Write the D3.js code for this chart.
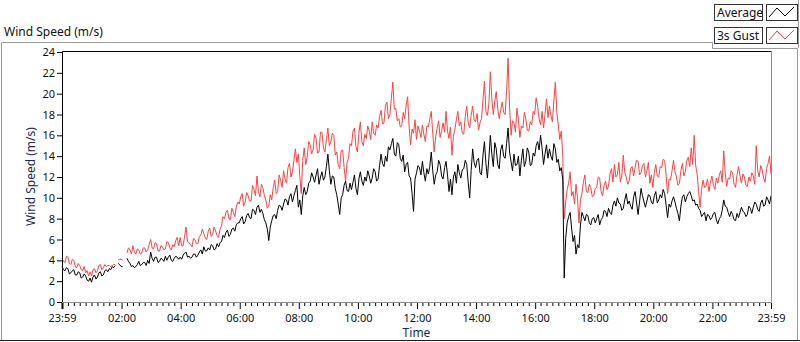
<!DOCTYPE html>
<html>
<head>
<meta charset="utf-8">
<script src="https://cdnjs.cloudflare.com/ajax/libs/d3/7.8.5/d3.min.js"></script>
<style>
  body { margin: 0; background: #fff; }
  svg { display: block; font-family: "Noto Sans", sans-serif; }
</style>
</head>
<body>
<div id="chart"></div>
<script>
// --- DATOS ---
// una muestra cada 3 minutos desde las 23:59 (null = hueco), 2 filas por hora
const STEP_MIN = 3;

const avgSpeed = [
  3.4, 3.1, 3.0, 3.3, 3.2, 2.7, 2.8, 3.0, 3.1, 2.6,
  2.6, 2.9, 2.8, 2.3, 2.4, 2.7, 2.5, 2.1, 2.0, 2.3,
  1.9, 2.4, 2.6, 2.2, 2.4, 2.8, 2.9, 2.5, 2.6, 3.0,
  3.1, 2.9, 3.2, 3.1, 3.4, 3.3, 3.5, null, 3.7, 3.6,
  3.4, 3.4, null, null, 4.2, 3.9, 3.7, 3.4, 3.5, 3.3,
  3.4, 3.6, 3.9, 3.5, 3.6, 3.8, 3.8, 3.5, 4.0, 3.7,
  4.8, 4.2, 3.9, 4.3, 4.3, 3.8, 3.9, 4.2, 4.1, 3.9,
  4.4, 4.0, 4.3, 4.5, 4.0, 3.9, 4.2, 4.4, 4.3, 4.1,
  4.3, 4.1, 4.5, 4.7, 4.8, 4.3, 4.4, 4.2, 4.3, 4.6,
  4.6, 4.3, 4.5, 4.8, 5.0, 4.6, 5.3, 4.9, 4.9, 5.2,
  5.0, 5.5, 5.4, 5.0, 5.1, 5.6, 5.3, 5.7, 5.8, 6.4,
  6.2, 6.7, 6.9, 6.3, 6.5, 7.0, 7.1, 6.8, 7.4, 7.6,
  7.6, 8.0, 8.2, 7.5, 7.7, 8.3, 8.5, 8.1, 8.0, 8.9,
  8.8, 8.4, 9.1, 9.3, 8.6, 8.9, 8.5, 7.9, 7.6, 7.0,
  5.9, 7.2, 7.8, 8.3, 8.4, 8.0, 8.8, 9.3, 9.2, 8.8,
  9.4, 9.9, 9.8, 9.3, 10.1, 10.4, 9.6, 10.2, 10.7, 11.2,
  9.1, 9.8, 8.4, 10.2, 11.0, 10.3, 10.6, 11.4, 11.6, 12.4,
  12.0, 11.5, 12.2, 12.8, 11.3, 12.0, 12.5, 11.7, 12.0, 13.0,
  14.2, 12.6, 11.3, 12.1, 12.0, 10.9, 10.3, 9.4, 8.4, 10.0,
  10.3, 11.2, 11.6, 10.7, 10.6, 11.4, 10.8, 11.5, 12.2, 10.9,
  10.3, 11.8, 12.5, 11.6, 11.2, 12.0, 11.6, 12.6, 12.1, 11.4,
  11.9, 12.8, 12.5, 11.6, 11.8, 13.1, 14.2, 13.3, 13.0, 14.0,
  13.5, 14.9, 14.6, 15.2, 15.7, 14.2, 14.0, 15.3, 15.1, 13.8,
  13.5, 14.1, 12.5, 13.2, 13.4, 12.1, 11.9, 10.4, 8.7, 11.8,
  12.4, 13.1, 12.9, 12.2, 13.5, 12.4, 11.6, 12.8, 12.3, 13.0,
  14.4, 12.6, 11.3, 12.2, 12.5, 13.6, 13.2, 12.1, 11.8, 12.9,
  13.5, 12.2, 10.6, 11.8, 10.3, 12.0, 12.5, 11.4, 13.2, 12.4,
  11.9, 12.7, 12.8, 13.6, 13.2, 11.5, 10.0, 12.6, 14.7, 13.4,
  12.9, 13.6, 13.8, 12.4, 12.2, 14.1, 15.4, 13.3, 11.9, 13.8,
  16.0, 14.2, 13.0, 15.3, 14.7, 13.2, 12.8, 14.6, 15.1, 14.0,
  13.8, 15.2, 16.7, 14.4, 13.5, 12.6, 14.2, 13.1, 13.2, 14.0,
  12.1, 13.6, 14.7, 13.0, 13.5, 14.8, 14.4, 13.1, 13.2, 14.3,
  14.0, 15.0, 15.4, 14.6, 16.0, 14.8, 13.2, 14.2, 15.1, 13.8,
  14.7, 14.0, 13.6, 15.2, 14.7, 13.4, 13.7, 12.6, 12.9, 11.8,
  2.3, 6.1, 7.6, 8.2, 8.6, 7.1, 5.8, 6.4, 4.6, 5.5,
  5.2, 7.4, 8.6, 8.2, 7.8, 8.4, 8.3, 7.6, 7.4, 8.0,
  8.1, 7.6, 8.0, 8.4, 7.4, 7.9, 8.1, 8.8, 8.7, 8.2,
  9.0, 8.6, 8.4, 9.3, 9.7, 9.2, 10.0, 9.5, 9.4, 8.8,
  9.0, 9.8, 10.4, 9.4, 9.7, 9.2, 8.9, 10.1, 10.6, 9.5,
  8.4, 9.6, 10.9, 10.2, 9.6, 9.1, 9.7, 10.3, 10.2, 9.6,
  9.4, 10.2, 10.6, 9.5, 9.8, 10.3, 10.0, 10.8, 10.4, 9.3,
  8.1, 9.4, 9.1, 9.7, 10.1, 9.6, 9.0, 8.5, 7.8, 9.2,
  10.1, 10.3, 9.6, 10.1, 10.4, 10.6, 10.2, 9.7, 9.8, 9.3,
  9.4, 9.0, 8.8, 8.2, 8.4, 8.6, 7.8, 8.4, 8.3, 7.9,
  8.1, 8.5, 8.6, 7.9, 7.5, 8.0, 8.2, 8.8, 9.8, 9.2,
  9.1, 8.6, 8.2, 8.7, 8.4, 7.9, 7.8, 8.5, 8.1, 8.6,
  9.1, 8.7, 8.6, 8.2, 8.4, 9.2, 9.0, 8.5, 9.1, 9.6,
  9.4, 8.9, 8.7, 9.5, 9.8, 9.2, 9.3, 10.1, 9.8, 9.4,
  10.2
];

const gustSpeed = [
  4.2, 3.9, 3.8, 4.4, 4.3, 3.7, 3.6, 4.1, 4.0, 3.4,
  3.3, 3.7, 3.5, 3.1, 3.0, 3.4, 2.8, 3.0, 2.5, 2.9,
  2.5, 3.1, 3.2, 2.8, 3.0, 3.5, 3.6, 3.1, 3.3, 3.6,
  3.4, 3.5, 3.5, 3.4, 3.5, 3.6, 3.6, null, 4.1, 4.1,
  4.1, 4.0, null, null, 4.7, 5.2, 5.0, 4.6, 5.4, 4.8,
  4.6, 5.1, 5.0, 4.6, 4.7, 5.2, 5.2, 4.8, 5.0, 5.5,
  6.0, 5.2, 5.1, 5.7, 5.6, 4.9, 4.9, 5.4, 5.3, 5.0,
  5.1, 5.8, 5.7, 5.2, 5.0, 5.5, 5.3, 5.9, 6.2, 5.4,
  6.2, 5.4, 5.4, 6.3, 7.2, 5.8, 5.7, 5.5, 5.3, 6.1,
  6.0, 5.6, 5.6, 6.3, 6.4, 7.0, 6.6, 6.1, 6.0, 6.8,
  7.1, 6.3, 6.5, 7.2, 6.8, 6.4, 6.2, 7.0, 7.3, 8.2,
  8.0, 8.6, 8.8, 8.0, 7.9, 9.0, 8.6, 8.2, 9.1, 9.6,
  9.4, 10.1, 10.4, 9.2, 9.6, 10.5, 10.2, 9.7, 9.7, 11.2,
  10.8, 10.2, 12.1, 10.6, 10.1, 11.3, 11.0, 10.2, 9.8, 9.0,
  9.2, 10.3, 9.8, 11.0, 11.7, 10.4, 10.6, 12.2, 11.7, 11.0,
  12.6, 11.8, 11.4, 12.9, 13.3, 12.0, 12.5, 13.6, 14.7, 13.4,
  14.2, 12.1, 10.4, 13.6, 14.8, 13.2, 13.9, 15.4, 15.1, 14.2,
  14.6, 16.1, 15.7, 14.3, 14.4, 16.3, 16.3, 14.8, 14.4, 15.6,
  16.7, 15.0, 15.4, 16.2, 16.0, 14.1, 14.4, 13.2, 12.8, 14.5,
  14.6, 12.9, 11.6, 13.4, 13.8, 15.2, 15.0, 16.4, 16.7, 14.9,
  14.4, 16.2, 17.3, 15.4, 15.0, 16.1, 15.7, 16.9, 16.4, 15.6,
  17.3, 16.2, 16.0, 17.0, 16.7, 17.8, 18.4, 17.1, 17.2, 18.9,
  19.2, 17.6, 18.0, 19.6, 21.1, 18.5, 18.6, 17.4, 17.6, 16.8,
  16.9, 18.2, 17.6, 18.9, 19.7, 16.8, 15.1, 16.6, 16.2, 17.5,
  15.6, 16.9, 16.4, 15.8, 17.0, 16.1, 15.4, 16.9, 16.8, 17.6,
  18.3, 16.2, 14.4, 15.9, 16.7, 17.4, 15.8, 16.4, 17.2, 16.3,
  18.3, 16.4, 15.7, 16.8, 14.1, 15.9, 16.6, 17.5, 18.3, 16.9,
  17.3, 16.2, 16.1, 17.8, 18.8, 17.2, 16.7, 17.9, 18.8, 17.5,
  17.3, 18.1, 16.5, 17.2, 17.6, 19.4, 21.2, 18.3, 17.9, 19.0,
  22.1, 19.5, 18.0, 19.3, 20.2, 18.6, 17.6, 18.4, 19.2, 18.2,
  18.0, 20.3, 23.4, 18.8, 16.0, 17.4, 17.2, 16.3, 18.6, 17.5,
  15.8, 16.9, 16.7, 18.2, 17.6, 16.5, 16.4, 17.3, 17.0, 18.3,
  18.0, 19.6, 18.8, 17.6, 17.0, 18.3, 16.7, 18.0, 19.5, 17.7,
  18.8, 17.9, 17.3, 19.3, 21.1, 18.2, 17.0, 15.6, 16.4, 14.2,
  8.0, 9.6, 10.8, 11.4, 12.5, 10.2, 10.6, 9.4, 11.3, 10.0,
  7.6, 9.8, 10.4, 11.5, 12.2, 10.6, 10.5, 11.3, 11.0, 10.1,
  10.2, 10.9, 11.0, 12.0, 11.9, 10.6, 10.2, 11.2, 11.6, 10.8,
  11.1, 12.3, 12.8, 11.5, 13.2, 12.0, 12.2, 13.4, 11.5, 12.1,
  14.1, 12.4, 12.0, 11.3, 11.6, 12.8, 13.0, 12.1, 12.9, 13.6,
  13.5, 12.2, 12.4, 13.1, 13.3, 12.0, 12.6, 13.4, 11.4, 12.2,
  11.0, 12.4, 13.2, 12.1, 12.0, 13.0, 12.9, 13.7, 13.6, 12.2,
  10.4, 11.8, 11.7, 12.6, 13.6, 12.5, 12.0, 11.2, 11.4, 12.6,
  13.3, 12.1, 12.5, 13.6, 13.9, 13.0, 14.8, 13.2, 16.0, 13.1,
  12.3, 10.6, 9.1, 10.8, 11.7, 11.0, 11.1, 11.8, 10.6, 11.5,
  12.1, 11.2, 10.8, 11.9, 11.4, 12.2, 12.6, 11.5, 14.5, 12.4,
  11.1, 11.9, 11.8, 12.6, 12.4, 11.3, 11.0, 12.2, 13.0, 12.1,
  11.4, 12.3, 12.0, 11.2, 11.1, 12.0, 11.6, 12.4, 12.1, 11.3,
  15.0, 12.6, 12.0, 13.1, 12.7, 11.9, 11.5, 12.8, 13.3, 14.0,
  12.3
];

// ejes
const yTicks = d3.range(0, 25, 2);
const xTickMinutes = [0, 121, 241, 361, 481, 601, 721, 841, 961, 1081, 1201, 1321, 1440];
const xTickLabels = ["23:59", "02:00", "04:00", "06:00", "08:00", "10:00", "12:00",
  "14:00", "16:00", "18:00", "20:00", "22:00", "23:59"];

const series = [
  { name: "Average", values: avgSpeed, color: "#000000" },
  { name: "3s Gust", values: gustSpeed, color: "#ff4040" }
];

// --- SVG ---
const width = 800, height = 342;
const plot = { left: 62, right: 771, top: 51, bottom: 302 };

const svg = d3.select("#chart").append("svg")
  .attr("width", width)
  .attr("height", height);

// marco exterior
svg.append("path")
  .attr("d", `M1.5,${height - 1}V42.5H712.5V48.5H797.5V${height - 1}`)
  .attr("fill", "none")
  .attr("stroke", "#9a9a9a");
svg.append("line")
  .attr("x1", 0).attr("x2", width)
  .attr("y1", 340.5).attr("y2", 340.5)
  .attr("stroke", "#202020");
svg.append("line")
  .attr("x1", 798.5).attr("x2", 798.5)
  .attr("y1", 0).attr("y2", 48)
  .attr("stroke", "#9a9a9a");

svg.append("text")
  .attr("x", 4).attr("y", 36)
  .attr("font-size", 12)
  .attr("fill", "#111")
  .text("Wind Speed (m/s)");

const x = d3.scaleLinear().domain([0, 1440]).range([plot.left, plot.right]);
const y = d3.scaleLinear().domain([0, 24]).range([plot.bottom, plot.top + 1]);

// lineas
const line = d3.line()
  .defined(d => d != null)
  .x((d, i) => x(i * STEP_MIN))
  .y(d => y(d));

const gLines = svg.append("g");
// primero rafaga (rojo), luego media (negro) encima
[series[1], series[0]].forEach(s => {
  gLines.append("path")
    .datum(s.values)
    .attr("fill", "none")
    .attr("stroke", s.color)
    .attr("stroke-width", 1)
    .attr("d", line);
});

// borde del area (arriba/izq negro, abajo/der gris)
svg.append("path")
  .attr("d", `M${plot.left + 0.5},${plot.bottom}V${plot.top + 0.5}H${plot.right}`)
  .attr("fill", "none").attr("stroke", "#000");
svg.append("path")
  .attr("d", `M${plot.left},${plot.bottom + 0.5}H${plot.right + 0.5}V${plot.top}`)
  .attr("fill", "none").attr("stroke", "#8c8c8c");

// eje Y
const yAxis = svg.append("g")
  .attr("transform", `translate(${plot.left},0)`)
  .call(d3.axisLeft(y).tickValues(yTicks).tickSize(5).tickPadding(2).tickFormat(d3.format("d")));
yAxis.select(".domain").remove();
yAxis.selectAll("line").attr("stroke", "#000");
yAxis.selectAll("text").attr("font-size", 11).attr("fill", "#111")
  .attr("font-family", "Noto Sans, sans-serif");

// eje X: marcas menores cada 12 min
const minorTicks = d3.range(12, 1440, 12).filter(m => !xTickMinutes.some(t => Math.abs(t - m) < 4));
const xMinor = svg.append("g")
  .attr("transform", `translate(0,${plot.bottom + 1})`)
  .call(d3.axisBottom(x).tickValues(minorTicks).tickSize(3).tickFormat(""));
xMinor.select(".domain").remove();
xMinor.selectAll("line").attr("stroke", "#000");

const xAxis = svg.append("g")
  .attr("transform", `translate(0,${plot.bottom + 1})`)
  .call(d3.axisBottom(x).tickValues(xTickMinutes).tickSize(6).tickPadding(5)
    .tickFormat((d, i) => xTickLabels[i]));
xAxis.select(".domain").remove();
xAxis.selectAll("line").attr("stroke", "#000");
xAxis.select(".tick line").attr("stroke-width", 2);
xAxis.selectAll("text").attr("font-size", 11).attr("fill", "#111")
  .attr("font-family", "Noto Sans, sans-serif");

// titulos de ejes
svg.append("text")
  .attr("transform", `translate(35,${(plot.top + plot.bottom) / 2}) rotate(-90)`)
  .attr("text-anchor", "middle")
  .attr("font-size", 12)
  .attr("fill", "#1b2a4a")
  .text("Wind Speed (m/s)");

svg.append("text")
  .attr("x", (plot.left + plot.right) / 2)
  .attr("y", 337)
  .attr("text-anchor", "middle")
  .attr("font-size", 12)
  .attr("fill", "#1b2a4a")
  .text("Time");

// --- LEYENDA ---
const iconPts = [[3, 13], [11, 4], [19, 12], [28, 3]];
const iconLine = d3.line();
const legend = svg.append("g");
series.forEach((s, i) => {
  const g = legend.append("g").attr("transform", `translate(714,${4 + i * 23})`);
  g.append("rect")
    .attr("x", 0.5).attr("y", 0.5).attr("width", 48).attr("height", 16)
    .attr("fill", "#fff").attr("stroke", "#333");
  g.append("text")
    .attr("x", 3).attr("y", 13)
    .attr("font-size", 12)
    .attr("fill", "#111")
    .text(s.name);
  const ic = g.append("g").attr("transform", "translate(52,0)");
  ic.append("rect")
    .attr("x", 0.5).attr("y", 0.5).attr("width", 31).attr("height", 16)
    .attr("fill", "#fff").attr("stroke", "#333");
  ic.append("path")
    .attr("d", iconLine(iconPts))
    .attr("fill", "none")
    .attr("stroke", s.color);
});
</script>
</body>
</html>
